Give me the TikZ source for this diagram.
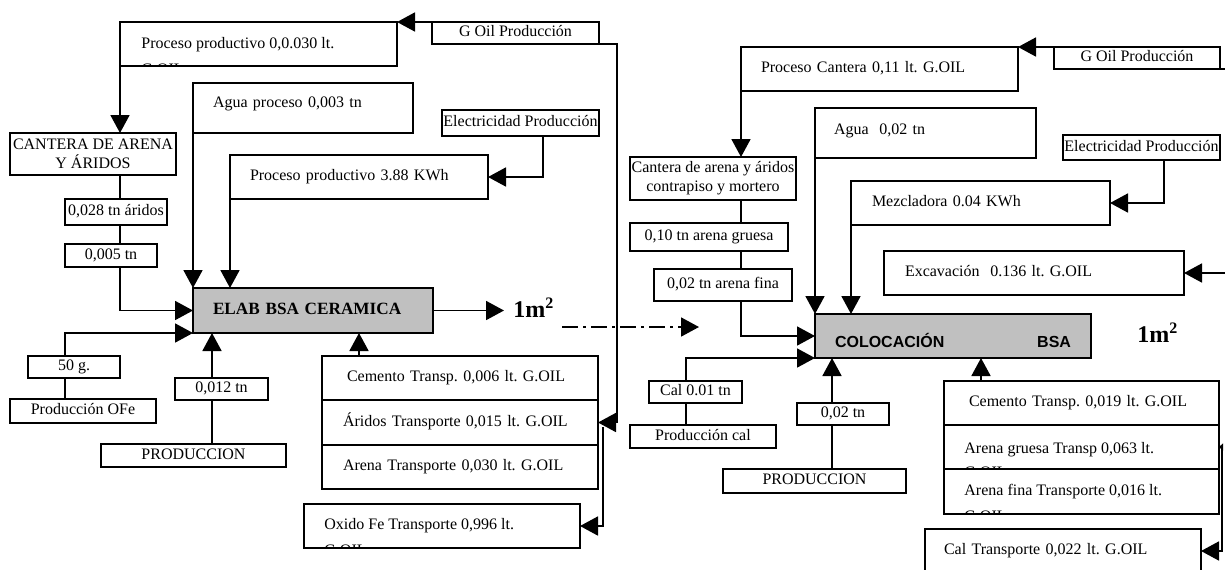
\documentclass[tikz,border=0pt]{standalone}
\usepackage{fontspec}
\setmainfont{Liberation Serif}
\setsansfont{Liberation Sans}
\usepackage{tikz}
\usetikzlibrary{positioning,arrows.meta}
\definecolor{boxgray}{RGB}{192,192,192}
\frenchspacing

\begin{document}
\begin{tikzpicture}[x=0.5pt, y=-0.5pt,
    base/.style={draw, line width=0.9pt, outer sep=0pt, inner sep=0pt, anchor=north west, font=\fontsize{8}{9.5}\selectfont},
    box/.style={base, text height=5.5pt, text depth=1.8pt},
    box2/.style={base, align=center},
    lbox/.style={box, align=left, inner xsep=10pt},
    cuttxt/.style={anchor=north west, inner sep=0pt, align=left, font=\fontsize{8}{12}\selectfont},
    arr/.style={line width=0.9pt, -{Triangle[length=9pt,width=9.5pt]}},
    ln/.style={line width=0.9pt},
    dashdot/.style={line width=0.9pt, dash pattern=on 8pt off 2.5pt on 1.5pt off 2.5pt, -{Triangle[length=9pt,width=9.5pt]}},
    bigm/.style={font=\fontsize{12}{14}\selectfont\bfseries, inner xsep=4.5pt, inner ysep=0pt, anchor=base west}]
    \useasboundingbox (0, 0) rectangle (1225, 569);
    \clip (0, 0) rectangle (1225, 569);

    % Elaboracion: boxes
    \node [box, minimum width=138.5pt, minimum height=22pt] (procL) at (120, 22) {};
    \begin{scope}
        \clip (procL.north west) rectangle (procL.south east);
        \node [cuttxt] (procLT) at ([shift={(10.5pt,-7.5pt)}]procL.north west) {Proceso productivo 0,0.030 lt.\\[1pt]G.OIL};
    \end{scope}
    \node [box, minimum width=83.5pt, minimum height=11pt] (oilL) at (432, 22) {G Oil Producción};
    \node [lbox, minimum width=110pt, minimum height=25pt, text width=90pt, text depth=6pt] (aguaL) at (193, 83) {Agua proceso 0,003 tn};
    \node [box, minimum width=78.5pt, minimum height=13pt] (elecL) at (442, 110) {Electricidad Producción};
    \node [lbox, minimum width=129pt, minimum height=22pt, text width=109pt] (kwhL) at (230, 155) {Proceso productivo 3.88 KWh};
    \node [box2, minimum width=83pt, minimum height=21pt] (cantL) at (10, 133) {CANTERA DE ARENA\\Y ÁRIDOS};
    \node [box, minimum width=51pt, minimum height=13pt] (aridL) at (65, 199) {0,028 tn áridos};
    \node [box, minimum width=46pt, minimum height=11.5pt] (t005) at (65, 244) {0,005 tn};
    \node [lbox, fill=boxgray, minimum width=120pt, minimum height=22.5pt, text width=100pt, font=\fontsize{8.6}{10}\selectfont\bfseries] (elab) at (193, 288) {ELAB BSA CERAMICA};
    \node [box, minimum width=46pt, minimum height=11pt] (g50) at (28, 356) {50 g.};
    \node [box, minimum width=73pt, minimum height=12pt] (ofe) at (10, 399) {Producción OFe};
    \node [box, minimum width=46.5pt, minimum height=11pt] (t012) at (175, 378) {0,012 tn};
    \node [box, minimum width=92.5pt, minimum height=11.5pt] (prodL) at (101, 444) {PRODUCCION};
    \node [lbox, inner xsep=12.5pt, minimum width=138pt, minimum height=22pt, text width=113pt] (cemL) at (322, 356) {Cemento Transp. 0,006 lt. G.OIL};
    \node [lbox, inner xsep=10.5pt, minimum width=138pt, minimum height=22.5pt, text width=117pt, below=0pt of cemL] (ariL) {Áridos Transporte 0,015 lt. G.OIL};
    \node [lbox, inner xsep=10.5pt, minimum width=138pt, minimum height=22pt, text width=117pt, below=0pt of ariL] (arnL) {Arena Transporte 0,030 lt. G.OIL};
    \node [box, minimum width=138pt, minimum height=22pt] (oxiL) at (304, 504) {};
    \begin{scope}
        \clip (oxiL.north west) rectangle (oxiL.south east);
        \node [cuttxt] (oxiLT) at ([shift={(10pt,-7pt)}]oxiL.north west) {Oxido Fe Transporte 0,996 lt.\\[1pt]G.OIL};
    \end{scope}
    \node [bigm] (m2L) at (504, 317) {1m\textsuperscript{2}};

    % Elaboracion: connectors
    \coordinate (colA) at (120, 0);
    \coordinate (colB) at (65, 0);
    \coordinate (colC) at (212, 0);
    \coordinate (colD) at (359, 0);
    \coordinate (colE) at (543, 0);
    \coordinate (oilLc) at (617, 44);
    \coordinate (oxL) at (603, 427);
    \draw [arr] (oilL.north west) -- (procL.north east);
    \draw [arr] (oilL.south east) -- (oilLc) |- (ariL.east);
    \draw [arr] (oxL) |- (oxiL.east);
    \draw [arr] (procL.south west) -- (colA |- cantL.north);
    \draw [ln] (colA |- cantL.south) -- (colA |- aridL.north);
    \draw [ln] (colA |- aridL.south) -- (colA |- t005.north);
    \draw [arr] (colA |- t005.south) |- (elab.west);
    \draw [arr] (colB |- g50.north) |- (elab.south west);
    \draw [ln] (colB |- g50.south) -- (colB |- ofe.north);
    \draw [arr] (colC |- t012.north) -- (colC |- elab.south);
    \draw [ln] (colC |- t012.south) -- (colC |- prodL.north);
    \draw [arr] (colD |- cemL.north) -- (colD |- elab.south);
    \draw [arr] (aguaL.south west) -- (elab.north west);
    \draw [arr] (kwhL.south west) -- (kwhL.south west |- elab.north);
    \draw [arr] (colE |- elecL.south) |- (kwhL.east);
    \draw [arr] (elab.east) -- (elab.east -| m2L.west);

    % Link between the two stages
    \coordinate (dS) at (562, 327);
    \coordinate (dE) at (699, 327);
    \draw [dashdot] (dS) -- (dE);

    % Colocacion: boxes
    \node [lbox, minimum width=138.5pt, minimum height=22pt, text width=118.5pt] (procR) at (741, 47) {Proceso Cantera 0,11 lt. G.OIL};
    \node [box, minimum width=83pt, minimum height=11pt] (oilR) at (1054, 47) {G Oil Producción};
    \node [lbox, inner xsep=9.5pt, minimum width=110.5pt, minimum height=25pt, text width=91.5pt, text depth=4pt] (aguaR) at (815, 108) {Agua\ \ 0,02 tn};
    \node [box, minimum width=78.5pt, minimum height=12.5pt] (elecR) at (1063, 135) {Electricidad Producción};
    \node [lbox, inner xsep=10.5pt, minimum width=129.5pt, minimum height=22pt, text width=108.5pt] (mezR) at (851, 181) {Mezcladora 0.04 KWh};
    \node [lbox, inner xsep=10.5pt, minimum width=150pt, minimum height=22pt, text width=129pt] (excR) at (884, 251) {Excavación\ \ 0.136 lt. G.OIL};
    \node [box2, minimum width=83pt, minimum height=21.5pt] (cantR) at (630, 157) {Cantera de arena y áridos\\contrapiso y mortero};
    \node [box, minimum width=79pt, minimum height=14pt] (grueR) at (630, 223) {0,10 tn arena gruesa};
    \node [box, minimum width=69pt, minimum height=16pt] (finaR) at (654, 269) {0,02 tn arena fina};
    \node [lbox, fill=boxgray, minimum width=138pt, minimum height=22pt, text width=118pt, text height=13pt, font=\sffamily\bfseries\fontsize{8}{9.5}\selectfont] (coloc) at (815, 314) {COLOCACIÓN\hfill BSA};
    \node [box, minimum width=46.5pt, minimum height=11pt] (calR) at (649, 381) {Cal 0.01 tn};
    \node [box, minimum width=73pt, minimum height=11.5pt] (pcalR) at (630, 425) {Producción cal};
    \node [box, minimum width=46pt, minimum height=11pt] (t002) at (797, 403) {0,02 tn};
    \node [box, minimum width=91.5pt, minimum height=12pt] (prodR) at (723, 469) {PRODUCCION};
    \node [lbox, inner xsep=12.5pt, minimum width=137.5pt, minimum height=22pt, text width=112.5pt] (cemR) at (944, 381) {Cemento Transp. 0,019 lt. G.OIL};
    \node [box, minimum width=137.5pt, minimum height=22pt, below=0pt of cemR] (grueT) {};
    \node [box, minimum width=137.5pt, minimum height=22.5pt, below=0pt of grueT] (finaT) {};
    \begin{scope}
        \clip (grueT.north west) rectangle (grueT.south east);
        \node [cuttxt] (grueTT) at ([shift={(10pt,-8.5pt)}]grueT.north west) {Arena gruesa Transp 0,063 lt.\\G.OIL};
    \end{scope}
    \begin{scope}
        \clip (finaT.north west) rectangle (finaT.south east);
        \node [cuttxt] (finaTT) at ([shift={(10pt,-7.5pt)}]finaT.north west) {Arena fina Transporte 0,016 lt.\\[1pt]G.OIL};
    \end{scope}
    \node [lbox, inner xsep=9.5pt, minimum width=138pt, minimum height=22pt, text width=119pt] (calT) at (925, 529) {Cal Transporte 0,022 lt. G.OIL};
    \node [bigm] (m2R) at (1128, 342) {1m\textsuperscript{2}};

    % Colocacion: connectors
    \coordinate (colF) at (741, 0);
    \coordinate (colG) at (1164, 0);
    \coordinate (colH) at (686, 0);
    \coordinate (colI) at (832, 0);
    \coordinate (colJ) at (981, 0);
    \coordinate (oilRc) at (1226, 69);
    \coordinate (excS) at (1226, 273);
    \coordinate (rvT) at (1222, 447);
    \draw [arr] (oilR.north west) -- (procR.north east);
    \draw [ln] (oilR.south east) -- (oilRc);
    \draw [arr] (procR.south west) -- (colF |- cantR.north);
    \draw [ln] (colF |- cantR.south) -- (colF |- grueR.north);
    \draw [ln] (colF |- grueR.south) -- (colF |- finaR.north);
    \draw [arr] (colF |- finaR.south) |- (coloc.west);
    \draw [arr] (aguaR.south west) -- (coloc.north west);
    \draw [arr] (mezR.south west) -- (mezR.south west |- coloc.north);
    \draw [arr] (colG |- elecR.south) |- (mezR.east);
    \draw [arr] (excS) -- (excR.east);
    \draw [arr] (colH |- calR.north) |- (coloc.south west);
    \draw [ln] (colH |- calR.south) -- (colH |- pcalR.north);
    \draw [arr] (colI |- t002.north) -- (colI |- coloc.south);
    \draw [ln] (colI |- t002.south) -- (colI |- prodR.north);
    \draw [arr] (colJ |- cemR.north) -- (colJ |- coloc.south);
    \draw [arr] (rvT) |- (calT.east);
    \draw [line width=0.9pt, -{Triangle[length=2pt,width=3.5pt]}] (rvT) -- (grueT.east);
\end{tikzpicture}
\end{document}
